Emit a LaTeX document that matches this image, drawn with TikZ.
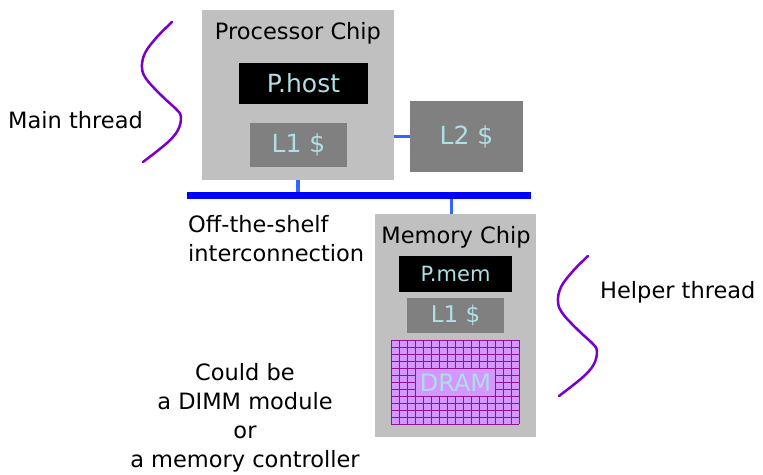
\documentclass[tikz,border=0pt]{standalone}
\usepackage{fontspec}
\setmainfont{DejaVu Sans}
\definecolor{chipgray}{RGB}{192,192,192}
\definecolor{unitgray}{RGB}{128,128,128}
\definecolor{cachetext}{RGB}{175,222,228}
\definecolor{busblue}{RGB}{0,0,255}
\definecolor{linkblue}{RGB}{51,102,255}
\definecolor{threadviolet}{RGB}{120,0,205}
\definecolor{dramfill}{RGB}{212,150,255}
\definecolor{dramline}{RGB}{140,20,140}
\begin{document}
\begin{tikzpicture}[x=1pt, y=-1pt, font=\fontsize{22.5}{29}\selectfont, line join=round, line cap=round,
	chip/.style={fill=chipgray, inner sep=0pt},
	unit/.style={fill=unitgray, text=cachetext, inner sep=0pt, font=\fontsize{25}{29}\selectfont},
	core/.style={fill=black, text=cachetext, inner sep=0pt, font=\fontsize{25}{29}\selectfont},
	link/.style={draw=linkblue, line width=3.5pt, line cap=butt},
	thread/.style={draw=threadviolet, line width=2.5pt},
	gridline/.style={draw=dramline, line width=0.7pt, line cap=butt}]
				\useasboundingbox (0,0) rectangle (763,474);
				\path
				(298,95) node[chip, minimum width=192pt, minimum height=170pt] (proc) {}
				(298,33) node (proctitle) {Processor Chip}
				(303.5,83.5) node[core, minimum width=129pt, minimum height=41pt] (phost) {P.host}
				(298.5,145) node[unit, minimum width=97pt, minimum height=44pt] (l1host) {L1 \$}
				(466.5,136.5) node[unit, minimum width=113pt, minimum height=71pt] (l2) {L2 \$}
				(359,195.5) node[fill=busblue, minimum width=344pt, minimum height=7pt, inner sep=0pt] (bus) {}
				(455.5,325.5) node[chip, minimum width=161pt, minimum height=223pt] (mem) {}
				(456,237) node (memtitle) {Memory Chip}
				(455.5,274) node[core, minimum width=113pt, minimum height=36pt, font=\fontsize{21}{24}\selectfont] (pmem) {P.mem}
				(455.5,315.5) node[unit, minimum width=97pt, minimum height=35pt, font=\fontsize{23}{24}\selectfont] (l1mem) {L1 \$}
;
				\draw[link] (l2.west) -- (l2.west -| proc.east);
				\draw[link] (proc.south) -- (proc.south |- bus.north);
				\draw[link] ([xshift=-4pt]mem.north) -- ([xshift=-4pt]mem.north |- bus.south);
				\fill[dramfill] (391,340) rectangle (519,424);
				\foreach \i in {0,...,16} \draw[gridline] (391+8*\i,340) -- (391+8*\i,424);
				\foreach \j in {0,...,12} \draw[gridline] (391,340+7*\j) -- (519,340+7*\j);
				\node[fill=dramfill, text=cachetext, minimum width=79pt, minimum height=27pt, inner sep=0pt, font=\fontsize{24}{24}\selectfont] (dram) at (455.5,382.5) {DRAM};
				\draw[thread] plot[smooth, tension=0.6] coordinates {(172,22) (157,37) (145,53) (142,68) (147,80) (163,97) (177,110) (181,117) (178,130) (167,143) (143,162)};
				\draw[thread, shift={(416,234)}] plot[smooth, tension=0.6] coordinates {(172,22) (157,37) (145,53) (142,68) (147,80) (163,97) (177,110) (181,117) (178,130) (167,143) (143,162)};
				\path
				(8,120) node[anchor=west, inner sep=0pt] (mainlbl) {Main thread}
				(188,238.5) node[anchor=west, align=left, inner sep=0pt] (offlbl) {Off-the-shelf\\interconnection}
				(600,292) node[anchor=west, inner sep=0pt] (helperlbl) {Helper thread}
				(245,418) node[align=center, inner sep=0pt] (couldlbl) {Could be\\a DIMM module\\or\\a memory controller};
			\end{tikzpicture}
\end{document}
